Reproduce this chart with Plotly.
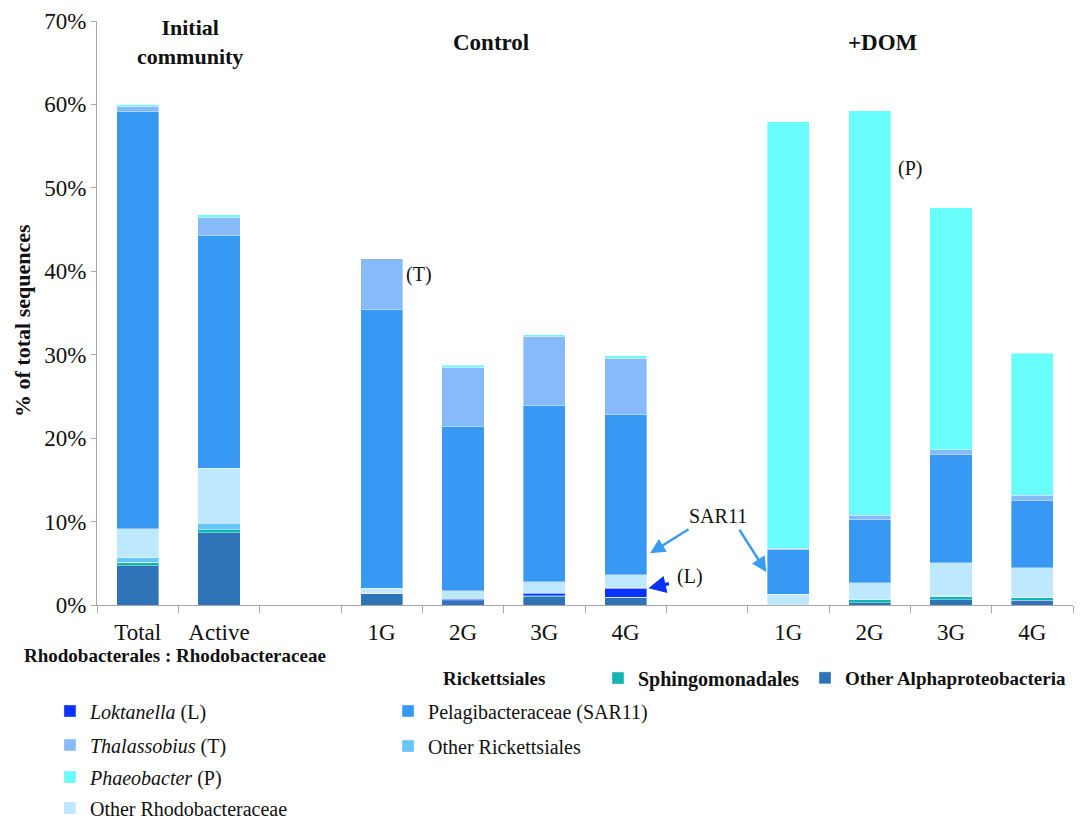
import plotly.graph_objects as go

# categories (blank slots separate the three groups)
tick_labels = ["Total", "Active", "", "1G", "2G", "3G", "4G", "", "1G", "2G", "3G", "4G"]
xpos = list(range(len(tick_labels)))

# % of total sequences, bottom -> top of each stack
other_alpha = [4.7, 8.65, None, 1.4, 0.5, 1.0, 0.9, None, 0.05, 0.3, 0.6, 0.55]
sphingo = [0.4, 0.35, None, 0, 0, 0.1, 0, None, 0, 0.3, 0.45, 0.35]
loktanella = [0, 0, None, 0, 0.2, 0.3, 1.1, None, 0, 0, 0, 0]
other_rick = [0.55, 0.8, None, 0.15, 0.1, 0.1, 0.05, None, 0.05, 0.05, 0.05, 0.05]
other_rhodo = [3.5, 6.6, None, 0.45, 0.9, 1.3, 1.55, None, 1.2, 2.0, 3.95, 3.5]
pelagi = [50.0, 27.9, None, 33.4, 19.7, 21.1, 19.2, None, 5.3, 7.6, 13.0, 8.1]
thalasso = [0.6, 2.2, None, 6.1, 7.1, 8.3, 6.8, None, 0.2, 0.5, 0.55, 0.6]
phaeo = [0.2, 0.3, None, 0, 0.25, 0.2, 0.3, None, 51.1, 48.5, 29.0, 17.0]

SERIF = "Liberation Serif, Times New Roman, DejaVu Serif, serif"

# name, values, colour, legend id, legend spot (paper x, paper y), text size
series = [
    ("<b>Other Alphaproteobacteria</b>", other_alpha, "#2F74B8", "legend8", (0.7254, -0.125), 19),
    ("<b>Sphingomonadales</b>", sphingo, "#12B5B1", "legend7", (0.5133, -0.125), 20),
    ("<i>Loktanella</i> (L)", loktanella, "#0A32FF", "legend", (-0.0482, -0.1815), 20),
    ("Other Rickettsiales", other_rick, "#68C5F7", "legend6", (0.2982, -0.2414), 20),
    ("Other Rhodobacteraceae", other_rhodo, "#BDE8FD", "legend4", (-0.0482, -0.3476), 20),
    ("Pelagibacteraceae (SAR11)", pelagi, "#3899F5", "legend5", (0.2982, -0.1815), 20),
    ("<i>Thalassobius</i> (T)", thalasso, "#86BAF9", "legend2", (-0.0482, -0.2397), 20),
    ("<i>Phaeobacter</i> (P)", phaeo, "#68FCFA", "legend3", (-0.0482, -0.2945), 20),
]

fig = go.Figure()
legends = {}
for name, vals, col, leg, (lx, ly), fs in series:
    fig.add_trace(go.Bar(
        x=xpos, y=vals, name=name, width=0.52,
        marker=dict(color=col, line=dict(color="rgba(255,255,255,0.45)", width=0.8)),
        legend=leg,
    ))
    legends[leg] = dict(x=lx, y=ly, xanchor="left", yanchor="middle",
                        font=dict(family=SERIF, size=fs), bgcolor="rgba(0,0,0,0)",
                        orientation="v", itemclick=False)

fig.update_layout(
    barmode="stack",
    width=1083, height=820,
    margin=dict(l=89, r=18, t=13, b=223, autoexpand=False),
    plot_bgcolor="white", paper_bgcolor="white",
    font=dict(family=SERIF, size=20, color="#111"),
    xaxis=dict(
        range=[-0.5, 11.5], tickmode="array", tickvals=xpos, ticktext=tick_labels,
        ticks="", showline=True, linecolor="#a6a6a6", linewidth=1,
        tickfont=dict(family=SERIF, size=23), showgrid=False, zeroline=False,
        ticklabelstandoff=6, automargin=False,
        minor=dict(tickmode="array", tickvals=[p - 0.5 for p in xpos] + [11.5],
                   ticks="outside", ticklen=7, tickcolor="#a6a6a6"),
    ),
    yaxis=dict(
        range=[0, 70], dtick=10, ticksuffix="%", showline=True, linecolor="#a6a6a6",
        ticks="outside", ticklen=5, tickcolor="#a6a6a6", showgrid=False,
        zeroline=False, tickfont=dict(family=SERIF, size=23), automargin=False,
    ),
    showlegend=True,
    **legends,
)

ann = [
    dict(text="<b>% of total sequences</b>", x=-0.0769, y=0.488, xref="paper", yref="paper",
         xanchor="center", yanchor="middle", textangle=-90, showarrow=False,
         font=dict(size=22)),
    dict(text="<b>Initial<br>community</b>", x=0.64, y=0.964, xref="x", yref="paper",
         xanchor="center", yanchor="middle", showarrow=False, font=dict(size=22)),
    dict(text="<b>Control</b>", x=4.35, y=0.964, xref="x", yref="paper",
         xanchor="center", yanchor="middle", showarrow=False, font=dict(size=23)),
    dict(text="<b>+DOM</b>", x=9.17, y=0.964, xref="x", yref="paper",
         xanchor="center", yanchor="middle", showarrow=False, font=dict(size=23)),
    dict(text="(T)", x=3.46, y=39.6, showarrow=False, font=dict(size=20)),
    dict(text="(P)", x=9.5, y=52.3, showarrow=False, font=dict(size=20)),
    dict(text="SAR11", x=7.13, y=10.7, showarrow=False, font=dict(size=20)),
    dict(text="(L)", x=6.79, y=3.36, showarrow=False, font=dict(size=20)),
    dict(text="", x=6.30, y=6.2, ax=40, ay=-25, showarrow=True, arrowhead=2,
         arrowsize=1.2, arrowwidth=2.5, arrowcolor="#3A9BF2"),
    dict(text="", x=7.73, y=3.95, ax=-28, ay=-44, showarrow=True, arrowhead=2,
         arrowsize=1.2, arrowwidth=2.5, arrowcolor="#3A9BF2"),
    dict(text="", x=6.28, y=2.0, ax=22, ay=-5, showarrow=True, arrowhead=2,
         arrowsize=1.0, arrowwidth=3.5, arrowcolor="#0A32F0"),
    dict(text="<b>Rhodobacterales : Rhodobacteraceae</b>", x=-0.0768, y=-0.0873,
         xref="paper", yref="paper", xanchor="left", yanchor="middle",
         showarrow=False, font=dict(size=19)),
    dict(text="<b>Rickettsiales</b>", x=0.3525, y=-0.125, xref="paper", yref="paper",
         xanchor="left", yanchor="middle", showarrow=False, font=dict(size=19)),
]
fig.update_layout(annotations=ann)

fig.write_html("out.html")
